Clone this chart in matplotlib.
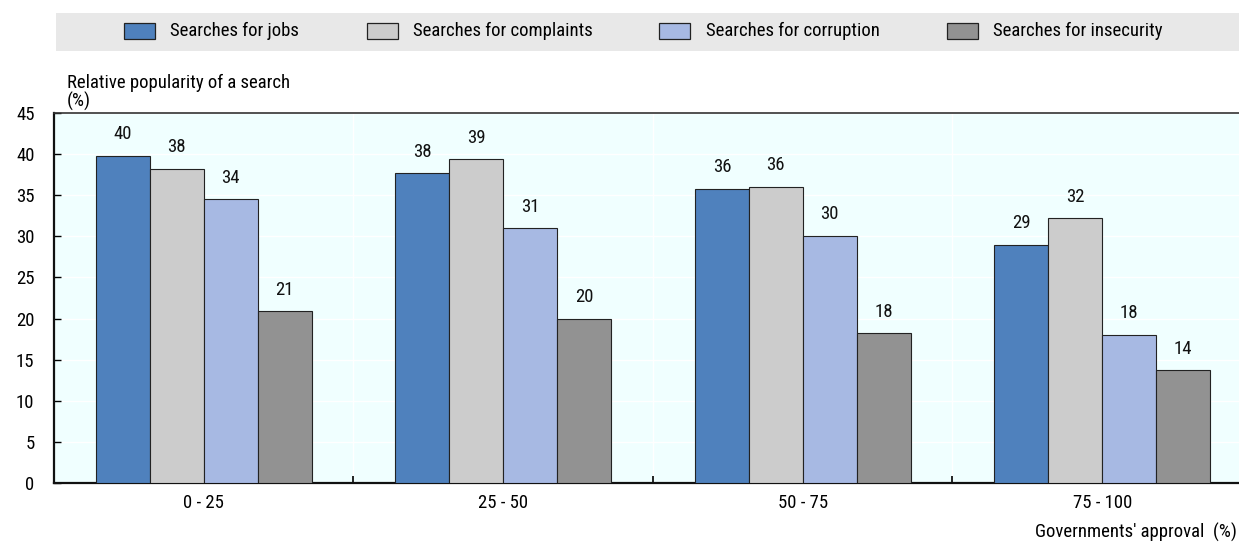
import matplotlib
matplotlib.use("Agg")
import matplotlib.pyplot as plt
from matplotlib import font_manager
from matplotlib.patches import Rectangle
import numpy as np

names = {f.name for f in font_manager.fontManager.ttflist}
narrow = None
for cand in ["Liberation Sans Narrow", "Arial Narrow", "Roboto Condensed", "Open Sans Condensed"]:
    if cand in names:
        narrow = cand
        break
if narrow:
    plt.rcParams['font.family'] = [narrow, 'Liberation Sans', 'DejaVu Sans']
    FS = 13.5
    LFS = 13.5
else:
    plt.rcParams['font.family'] = ['Liberation Sans', 'DejaVu Sans']
    FS = 11.5
    LFS = 10.8

categories = ["0 - 25", "25 - 50", "50 - 75", "75 - 100"]
series_names = ["Searches for jobs", "Searches for complaints",
                "Searches for corruption", "Searches for insecurity"]
jobs = [39.8, 37.7, 35.8, 29.0]
complaints = [38.2, 39.4, 36.0, 32.2]
corruption = [34.5, 31.0, 30.1, 18.0]
insecurity = [20.9, 20.0, 18.2, 13.7]
colors = ["#4f81bd", "#cccccc", "#a7b9e3", "#929292"]

W, H = 1239, 542
fig = plt.figure(figsize=(W / 100, H / 100), dpi=100)

ax = fig.add_axes([54 / W, (H - 483) / H, (1252 - 54) / W, (483 - 113) / H])
ax.set_facecolor("#f0ffff")

x = np.arange(len(categories))
bw = 0.18
for i, (vals, c) in enumerate(zip([jobs, complaints, corruption, insecurity], colors)):
    pos = x + (i - 1.5) * bw
    ax.bar(pos, vals, width=bw, color=c, edgecolor="#222222", linewidth=0.8, zorder=3)
    for p, v in zip(pos, vals):
        ax.annotate(f"{v:.0f}", (p, v), xytext=(0, 9), textcoords="offset points",
                    ha="center", va="bottom", fontsize=FS, color="#111111", zorder=4)

ax.set_xlim(-0.5, 3.5)
ax.set_ylim(0, 45)
ax.set_yticks(range(0, 46, 5))
ax.set_xticks(x)
ax.set_xticklabels(categories)
ax.set_xticks([0.5, 1.5, 2.5], minor=True)
ax.tick_params(axis="x", which="major", length=0, pad=8, labelsize=FS)
ax.tick_params(axis="x", which="minor", direction="in", length=5, width=1.2)
ax.tick_params(axis="y", direction="in", length=5, width=1, pad=14, labelsize=FS)
ax.grid(axis="y", color="white", linewidth=1, zorder=0)
ax.grid(axis="x", which="minor", color="white", linewidth=1, zorder=0)
ax.set_axisbelow(True)
for s in ["left", "bottom"]:
    ax.spines[s].set_linewidth(1.6)
    ax.spines[s].set_color("#111111")
ax.spines["top"].set_linewidth(1.2)
ax.spines["top"].set_color("#333333")
ax.spines["right"].set_visible(False)

fig.text(67 / W, 1 - 74 / H, "Relative popularity of a search\n(%)", ha="left", va="top",
         fontsize=FS, linespacing=1.0)
fig.text(1237 / W, 1 - 532 / H, "Governments' approval  (%)", ha="right", va="center",
         fontsize=FS)

fig.patches.append(Rectangle((56 / W, 1 - 51 / H), (W - 56) / W, 38 / H,
                             transform=fig.transFigure, facecolor="#e8e8e8",
                             edgecolor="none", zorder=0))
patch_x = [124, 367, 659, 947]
text_x = [170, 413, 706, 993]
for px, tx, name, c in zip(patch_x, text_x, series_names, colors):
    fig.patches.append(Rectangle((px / W, 1 - 39 / H), 31 / W, 16 / H,
                                 transform=fig.transFigure, facecolor=c,
                                 edgecolor="#222222", linewidth=0.9, zorder=1))
    fig.text(tx / W, 1 - 31 / H, name, ha="left", va="center", fontsize=LFS)

fig.savefig("out.png", dpi=100)
